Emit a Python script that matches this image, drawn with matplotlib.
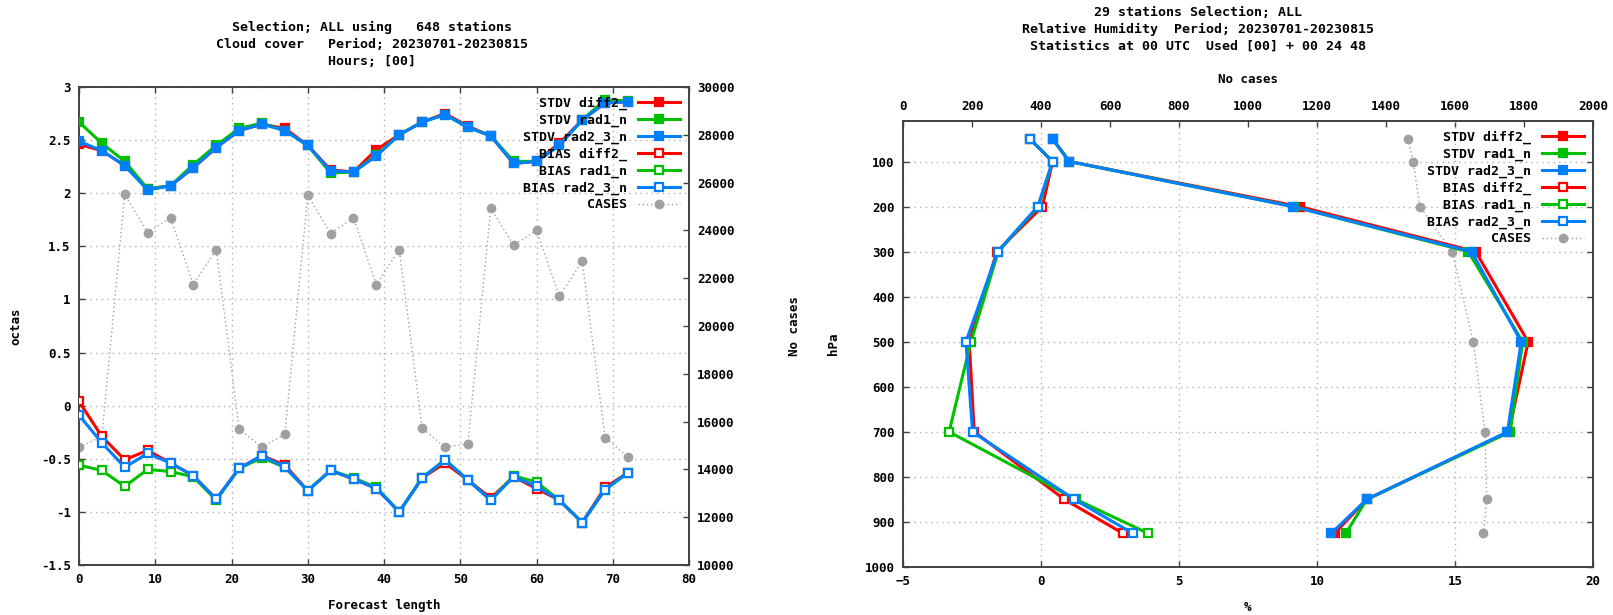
import matplotlib
matplotlib.use('Agg')
import matplotlib.pyplot as plt
import numpy as np

plt.rcParams.update({'font.family': 'DejaVu Sans Mono', 'font.weight': 'bold', 'font.size': 9,
                     'axes.labelweight': 'bold'})

# ---- left panel: cloud cover vs forecast length ----
fc_len = [0, 3, 6, 9, 12, 15, 18, 21, 24, 27, 30, 33, 36, 39, 42, 45, 48, 51, 54, 57, 60, 63, 66, 69, 72]

stdv_diff2 = [2.46, 2.40, 2.26, 2.04, 2.07, 2.24, 2.43, 2.59, 2.65, 2.61, 2.45, 2.22, 2.20, 2.41, 2.55,
              2.67, 2.75, 2.63, 2.54, 2.28, 2.30, 2.47, 2.69, 2.85, 2.86]
stdv_rad1 = [2.67, 2.47, 2.30, 2.04, 2.07, 2.27, 2.45, 2.61, 2.66, 2.59, 2.45, 2.19, 2.20, 2.36, 2.55,
             2.67, 2.74, 2.62, 2.54, 2.30, 2.30, 2.45, 2.69, 2.88, 2.87]
stdv_rad23 = [2.49, 2.40, 2.26, 2.03, 2.07, 2.24, 2.43, 2.59, 2.65, 2.59, 2.45, 2.21, 2.20, 2.35, 2.55,
              2.67, 2.74, 2.62, 2.54, 2.28, 2.30, 2.45, 2.69, 2.85, 2.86]
bias_diff2 = [0.04, -0.29, -0.51, -0.42, -0.54, -0.66, -0.88, -0.59, -0.47, -0.56, -0.80, -0.61, -0.69,
              -0.78, -1.00, -0.68, -0.54, -0.70, -0.87, -0.67, -0.78, -0.89, -1.10, -0.77, -0.63]
bias_rad1 = [-0.56, -0.61, -0.76, -0.60, -0.62, -0.67, -0.89, -0.59, -0.49, -0.58, -0.80, -0.61, -0.68,
             -0.77, -1.00, -0.68, -0.51, -0.70, -0.89, -0.66, -0.72, -0.89, -1.10, -0.79, -0.63]
bias_rad23 = [-0.09, -0.35, -0.58, -0.45, -0.54, -0.66, -0.88, -0.59, -0.47, -0.58, -0.80, -0.61, -0.69,
              -0.78, -1.00, -0.68, -0.51, -0.70, -0.89, -0.67, -0.76, -0.89, -1.10, -0.79, -0.63]
cases_left = [14930, 15380, 25510, 23910, 24530, 21730, 23200, 15690, 14930, 15470, 25470, 23870, 24530,
              21730, 23200, 15730, 14930, 15070, 24930, 23380, 24000, 21240, 22710, 15330, 14530]

# ---- right panel: relative humidity profile ----
pres = [50, 100, 200, 300, 500, 700, 850, 925]
rh_stdv_diff2 = [0.42, 1.03, 9.37, 15.75, 17.65, 16.95, 11.80, 10.64]
rh_stdv_rad1 = [0.42, 1.03, 9.15, 15.48, 17.45, 17.00, 11.80, 11.05]
rh_stdv_rad23 = [0.42, 1.03, 9.13, 15.60, 17.40, 16.90, 11.80, 10.52]
rh_bias_diff2 = [-0.40, 0.42, 0.05, -1.60, -2.60, -2.42, 0.85, 2.96]
rh_bias_rad1 = [-0.40, 0.42, -0.10, -1.55, -2.54, -3.33, 1.27, 3.87]
rh_bias_rad23 = [-0.40, 0.42, -0.12, -1.57, -2.72, -2.48, 1.21, 3.32]
cases_right = [1464, 1479, 1498, 1592, 1653, 1687, 1692, 1682]

labels = ['STDV diff2_', 'STDV rad1_n', 'STDV rad2_3_n', 'BIAS diff2_', 'BIAS rad1_n', 'BIAS rad2_3_n']
RED, GREEN, BLUE, GREY = '#ff0000', '#00c000', '#0080ff', '#a0a0a0'
colors = [RED, GREEN, BLUE, RED, GREEN, BLUE]

fig = plt.figure(figsize=(16.13, 6.15), dpi=100)
W, H = 1613, 615


def box(l, t, r, b):
    return [l / W, 1 - b / H, (r - l) / W, (b - t) / H]


def style_axis(ax):
    ax.tick_params(direction='in', length=4, width=1, colors='#404040', labelcolor='black', pad=6)
    for s in ax.spines.values():
        s.set_color('#404040')
        s.set_linewidth(1.2)


# left
ax1 = fig.add_axes(box(79, 87, 689, 565))
series = [stdv_diff2, stdv_rad1, stdv_rad23, bias_diff2, bias_rad1, bias_rad23]
handles = []
for i, (ys, lab, c) in enumerate(zip(series, labels, colors)):
    filled = i < 3
    h, = ax1.plot(fc_len, ys, color=c, lw=2.2, marker='s', ms=5.5,
                  mfc=c if filled else 'white', mec=c, mew=1.6, label=lab, zorder=3 + i % 3)
    handles.append(h)
ax1.set_xlim(0, 80)
ax1.set_ylim(-1.5, 3)
ax1.set_xticks(np.arange(0, 81, 10))
ax1.set_yticks(np.arange(-1.5, 3.01, 0.5))
ax1.set_yticklabels(['-1.5', '-1', '-0.5', '0', '0.5', '1', '1.5', '2', '2.5', '3'])
ax1.grid(True, color='#b0b0b0', ls=(0, (1, 3)), lw=1)
ax1.set_xlabel('Forecast length', labelpad=9)
ax1.set_ylabel('octas', labelpad=13)
style_axis(ax1)
ax1.tick_params(top=True)

ax1b = ax1.twinx()
hc, = ax1b.plot(fc_len, cases_left, color=GREY, ls=(0, (1, 2)), lw=1, marker='o', ms=6,
                mfc=GREY, mec=GREY, label='CASES', zorder=1)
ax1b.set_ylim(10000, 30000)
ax1b.set_yticks(np.arange(10000, 30001, 2000))
ax1b.set_ylabel('No cases', labelpad=38)
style_axis(ax1b)
ax1.set_zorder(ax1b.get_zorder() + 1)
ax1.patch.set_visible(False)
ax1.legend(handles + [hc], labels + ['CASES'], loc='upper right', frameon=False, markerfirst=False,
           handlelength=3.2, labelspacing=0.28, borderaxespad=0.3, handletextpad=0.8, fontsize=9.5)

fig.text(372 / W, 1 - 21 / H,
         'Selection; ALL using   648 stations\nCloud cover   Period; 20230701-20230815\nHours; [00]',
         ha='center', va='top', fontsize=9.5, fontweight='bold', linespacing=1.4)

# right
ax2 = fig.add_axes(box(903, 121, 1593, 567))
series_r = [rh_stdv_diff2, rh_stdv_rad1, rh_stdv_rad23, rh_bias_diff2, rh_bias_rad1, rh_bias_rad23]
handles_r = []
for i, (xs, lab, c) in enumerate(zip(series_r, labels, colors)):
    filled = i < 3
    h, = ax2.plot(xs, pres, color=c, lw=2.2, marker='s', ms=5.5,
                  mfc=c if filled else 'white', mec=c, mew=1.6, label=lab, zorder=3 + i % 3)
    handles_r.append(h)
ax2.set_xlim(-5, 20)
ax2.set_ylim(1000, 10)
ax2.set_xticks(np.arange(-5, 21, 5))
ax2.set_yticks(np.arange(100, 1001, 100))
ax2.grid(True, color='#b0b0b0', ls=(0, (1, 3)), lw=1)
ax2.set_xlabel('%', labelpad=9)
ax2.set_ylabel('hPa', labelpad=18)
style_axis(ax2)
ax2.tick_params(right=True)

ax2b = ax2.twiny()
hc2, = ax2b.plot(cases_right, pres, color=GREY, ls=(0, (1, 2)), lw=1, marker='o', ms=6,
                 mfc=GREY, mec=GREY, label='CASES', zorder=1)
ax2b.set_xlim(0, 2000)
ax2b.set_xticks(np.arange(0, 2001, 200))
ax2b.set_xlabel('No cases', labelpad=12)
style_axis(ax2b)
ax2.set_zorder(ax2b.get_zorder() + 1)
ax2.patch.set_visible(False)
ax2.legend(handles_r + [hc2], labels + ['CASES'], loc='upper right', frameon=False, markerfirst=False,
           handlelength=3.2, labelspacing=0.28, borderaxespad=0.3, handletextpad=0.8, fontsize=9.5)

fig.text(1198 / W, 1 - 6 / H,
         '29 stations Selection; ALL\nRelative Humidity  Period; 20230701-20230815\nStatistics at 00 UTC  Used [00] + 00 24 48',
         ha='center', va='top', fontsize=9.5, fontweight='bold', linespacing=1.4)

fig.savefig('out.png', dpi=100)
